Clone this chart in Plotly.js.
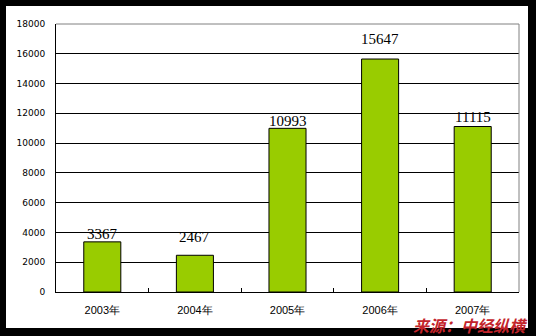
<!DOCTYPE html>
<html>
<head>
<meta charset="utf-8">
<script src="https://cdn.plot.ly/plotly-3.0.1.min.js"></script>
<style>
  html, body { margin: 0; padding: 0; background: #000; }
  #chart { width: 536px; height: 336px; }
</style>
</head>
<body>
<div id="chart"></div>
<script>
// ---- data ----
const categories = ["2003年", "2004年", "2005年", "2006年", "2007年"];
const values = [3367, 2467, 10993, 15647, 11115];
const yTickValues = [0, 2000, 4000, 6000, 8000, 10000, 12000, 14000, 16000, 18000];
const sourceText = "来源：中经纵横";

// ---- layout geometry (pixels) ----
const W = 536, H = 336;
const M = { l: 56, r: 17, t: 24, b: 44 };
const pw = W - M.l - M.r, ph = H - M.t - M.b;
const px2x = p => (p - M.l) / pw;
const py2y = p => (H - M.b - p) / ph;
// per-label vertical nudges (px) as in the original chart
const labelShift = [8, 18, 7, 20, 10];

const trace = {
  type: "bar",
  x: categories,
  y: values,
  marker: { color: "#99cc00", line: { color: "#000000", width: 1 } },
  hoverinfo: "x+y"
};

const annotations = values.map((v, i) => ({
  x: categories[i], y: v, xref: "x", yref: "y",
  text: String(v), showarrow: false,
  yanchor: "middle", yshift: labelShift[i],
  font: { family: "Liberation Serif, Times New Roman, serif", size: 15, color: "#000" }
}));
annotations.push({
  xref: "paper", yref: "paper",
  x: px2x(470), y: py2y(324.5), xanchor: "center", yanchor: "middle",
  text: "<b><i>" + sourceText + "</i></b>", showarrow: false,
  font: { family: "Noto Sans CJK SC, sans-serif", size: 16, color: "#c3242b" }
});

const layout = {
  width: W, height: H,
  margin: M,
  paper_bgcolor: "#000000",
  plot_bgcolor: "#ffffff",
  showlegend: false,
  bargap: 0.6,
  font: { family: "DejaVu Sans, Verdana, sans-serif", color: "#000" },
  xaxis: {
    type: "category",
    showline: true, linecolor: "#000", linewidth: 1,
    ticks: "inside", tickson: "boundaries", ticklen: 4, tickcolor: "#000",
    tickfont: { family: "Liberation Sans, Arial, sans-serif", size: 11, color: "#000" },
    ticklabelstandoff: 8,
    showgrid: false, zeroline: false, fixedrange: true
  },
  yaxis: {
    range: [0, 18000], tickvals: yTickValues, ticktext: yTickValues.map(String),
    showline: true, linecolor: "#000", linewidth: 1,
    showgrid: true, gridcolor: "#000", gridwidth: 1,
    zeroline: false, ticks: "",
    tickfont: { family: "DejaVu Sans, Verdana, sans-serif", size: 9, color: "#000" },
    ticklabelstandoff: 8, fixedrange: true
  },
  shapes: [
    { type: "rect", xref: "paper", yref: "paper", layer: "below",
      x0: px2x(6), x1: px2x(528), y0: py2y(328), y1: py2y(6),
      fillcolor: "#ffffff", line: { width: 0 } },
    { type: "line", xref: "paper", yref: "paper", layer: "above",
      x0: 0, x1: 1, y0: 1, y1: 1, line: { color: "#808080", width: 1 } },
    { type: "line", xref: "paper", yref: "paper", layer: "above",
      x0: 1, x1: 1, y0: 0, y1: 1, line: { color: "#808080", width: 1 } }
  ],
  annotations: annotations
};

Plotly.newPlot("chart", [trace], layout, { displayModeBar: false, staticPlot: true });
</script>
</body>
</html>
